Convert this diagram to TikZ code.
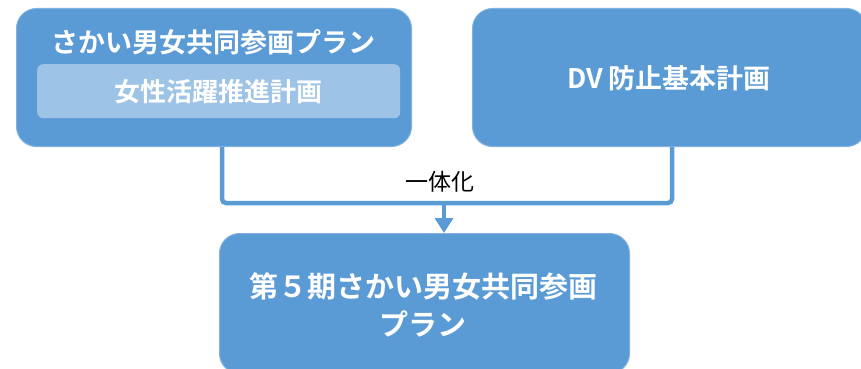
\documentclass[tikz,border=0pt]{standalone}
\usepackage{fontspec}
\setmainfont{Noto Sans CJK JP}
\newfontfamily\jpb{Noto Sans CJK JP}[BoldFont=* Bold]
\usetikzlibrary{arrows.meta}
\definecolor{boxblue}{HTML}{5B9BD5}
\definecolor{lightblue}{HTML}{9DC3E6}
\definecolor{edgeblue}{HTML}{7FB2E0}
\tikzset{
  mainbox/.style={fill=boxblue, draw=edgeblue, line width=1pt, rounded corners=20pt},
  innerbox/.style={fill=lightblue, rounded corners=6pt},
  wtext/.style={text=white, font=\jpb\bfseries\fontsize{27}{30}\selectfont, inner sep=0pt},
  link/.style={draw=boxblue, line width=4.5pt, rounded corners=4pt},
}
\begin{document}
\begin{tikzpicture}[x=1pt,y=-1pt]
\useasboundingbox (0,0) rectangle (861,369);
% boxes
\node[mainbox, minimum width=395pt, minimum height=138pt, anchor=north west, inner sep=0pt] (left) at (16,8) {};
\node[innerbox, minimum width=363pt, minimum height=54pt, anchor=north west, inner sep=0pt] (inner) at (37,64) {};
\node[wtext] (lt) at (213,42) {さかい男女共同参画プラン};
\node[wtext, font=\jpb\bfseries\fontsize{26}{30}\selectfont] (it) at (218,92) {女性活躍推進計画};
\node[mainbox, minimum width=394pt, minimum height=138pt, anchor=north west, inner sep=0pt] (right) at (472,8) {};
\node[wtext] (rt) at (669,78) {DV 防止基本計画};
\node[mainbox, minimum width=410pt, minimum height=140pt, anchor=north west, inner sep=0pt] (bottom) at (219,233) {};
\node[wtext, align=center, font=\jpb\bfseries\fontsize{29}{38}\selectfont] (bt) at (423,305) {第５期さかい男女共同参画\\プラン};
% connector
\coordinate (jl) at (222,203);
\coordinate (jr) at (672,203);
\coordinate (jm) at (444,203);
\draw[link] (left.south -| jl) -- (jl) -- (jr) -- (right.south -| jr);
\draw[draw=boxblue, line width=4.5pt, -{Triangle[width=18pt,length=15pt]}] (jm) -- (jm |- bottom.north);
\node[font=\fontsize{23}{26}\selectfont, inner sep=0pt] (lab) at (440,182) {一体化};
\end{tikzpicture}
\end{document}
